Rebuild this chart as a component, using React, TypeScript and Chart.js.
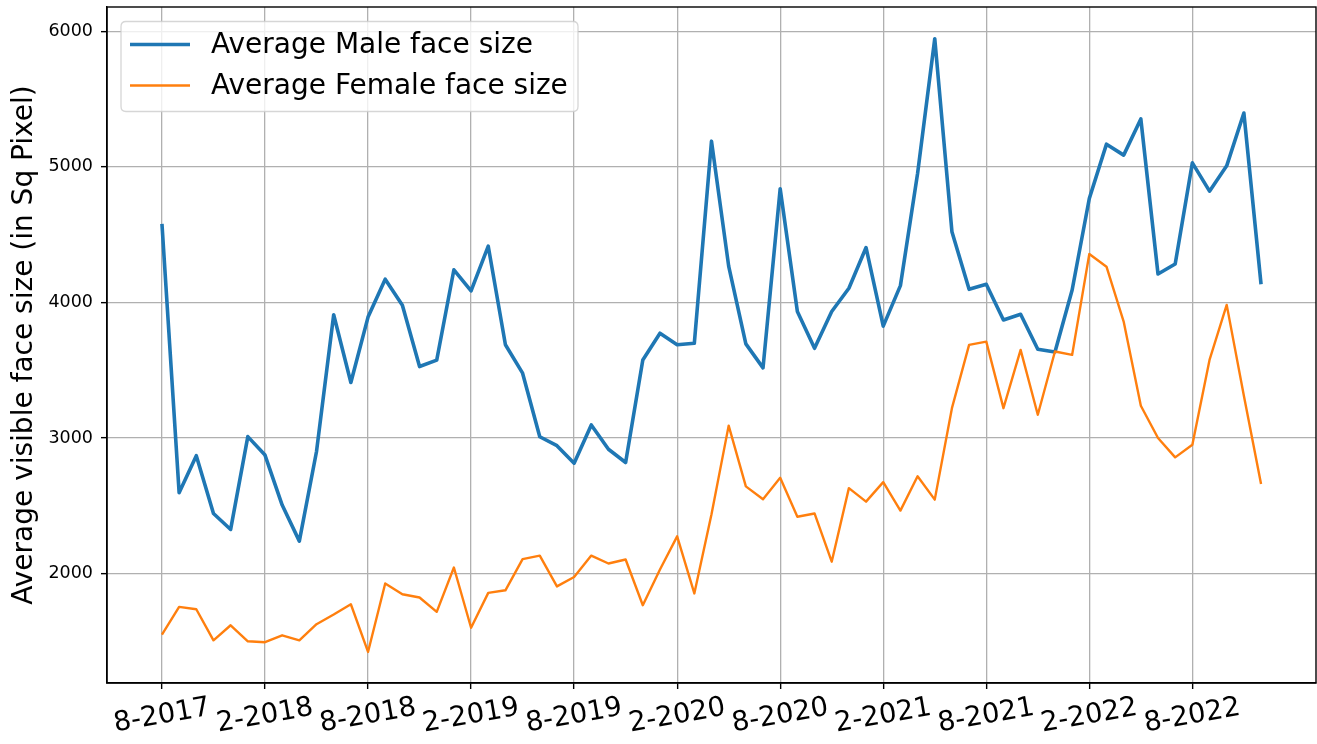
import React, { useEffect, useRef } from "react";
import { Chart, registerables } from "chart.js";

Chart.register(...registerables);

const maleLabel = "Average Male face size";
const femaleLabel = "Average Female face size";
const yTitle = "Average visible face size (in Sq Pixel)";

// monthly points, 8-2017 .. 12-2022
const maleSizes = [
  4579, 2596, 2869, 2443, 2325, 3010, 2874, 2505, 2239, 2900,
  3909, 3409, 3892, 4172, 3980, 3527, 3574, 4241, 4086, 4415,
  3688, 3478, 3009, 2943, 2814, 3096, 2917, 2819, 3575, 3773,
  3688, 3699, 5190, 4268, 3694, 3517, 4839, 3933, 3662, 3933,
  4105, 4405, 3825, 4124, 4952, 5946, 4522, 4097, 4134, 3871,
  3913, 3655, 3635, 4092, 4767, 5168, 5087, 5354, 4210, 4284,
  5030, 4821, 5008, 5398, 4134,
];
const femaleSizes = [
  1549, 1754, 1736, 1507, 1618, 1500, 1493, 1544, 1507, 1626,
  1697, 1773, 1421, 1926, 1847, 1823, 1717, 2044, 1600, 1857,
  1876, 2106, 2132, 1905, 1974, 2132, 2074, 2103, 1766, 2029,
  2274, 1853, 2437, 3091, 2643, 2548, 2706, 2419, 2443, 2087,
  2630, 2530, 2674, 2464, 2717, 2545, 3220, 3687, 3711, 3220,
  3650, 3171, 3638, 3613, 4357, 4264, 3859, 3238, 3000, 2857,
  2950, 3576, 3982, 3311, 2661,
];
const xTickLabels = [
  "8-2017", "2-2018", "8-2018", "2-2019", "8-2019", "2-2020",
  "8-2020", "2-2021", "8-2021", "2-2022", "8-2022",
];
const xTickStep = 6;
const yTickValues = [2000, 3000, 4000, 5000, 6000];

const FONT = "'DejaVu Sans', 'Liberation Sans', sans-serif";

const decorPlugin = {
  id: "decor",
  afterDraw(chart: any) {
    const { ctx, chartArea, scales } = chart;
    const xs = scales.x;
    ctx.save();
    // frame (all four spines)
    ctx.strokeStyle = "#000";
    ctx.lineWidth = 1.4;
    ctx.strokeRect(chartArea.left, chartArea.top, chartArea.right - chartArea.left, chartArea.bottom - chartArea.top);
    // rotated x tick labels, centered on ticks
    ctx.fillStyle = "#000";
    ctx.font = `27.5px ${FONT}`;
    ctx.textAlign = "center";
    ctx.textBaseline = "middle";
    xTickLabels.forEach((lab, k) => {
      const px = xs.getPixelForValue(k * xTickStep);
      ctx.save();
      ctx.translate(px, chartArea.bottom + 33);
      ctx.rotate((-10 * Math.PI) / 180);
      ctx.fillText(lab, 0, 0);
      ctx.restore();
    });
    // legend box
    const bx = chartArea.left + 14, by = chartArea.top + 14.5, bw = 457, bh = 90, r = 5;
    ctx.beginPath();
    ctx.moveTo(bx + r, by);
    ctx.lineTo(bx + bw - r, by);
    ctx.quadraticCurveTo(bx + bw, by, bx + bw, by + r);
    ctx.lineTo(bx + bw, by + bh - r);
    ctx.quadraticCurveTo(bx + bw, by + bh, bx + bw - r, by + bh);
    ctx.lineTo(bx + r, by + bh);
    ctx.quadraticCurveTo(bx, by + bh, bx, by + bh - r);
    ctx.lineTo(bx, by + r);
    ctx.quadraticCurveTo(bx, by, bx + r, by);
    ctx.closePath();
    ctx.fillStyle = "rgba(255,255,255,0.8)";
    ctx.fill();
    ctx.strokeStyle = "rgba(204,204,204,0.8)";
    ctx.lineWidth = 1.3;
    ctx.stroke();
    const items = chart.data.datasets;
    const rows = [by + 23, by + 64];
    ctx.font = `28px ${FONT}`;
    ctx.textAlign = "left";
    ctx.textBaseline = "middle";
    items.forEach((ds: any, i: number) => {
      ctx.strokeStyle = ds.borderColor;
      ctx.lineWidth = ds.borderWidth;
      ctx.beginPath();
      ctx.moveTo(bx + 9, rows[i]);
      ctx.lineTo(bx + 69, rows[i]);
      ctx.stroke();
      ctx.fillStyle = "#000";
      ctx.fillText(ds.label, bx + 90, rows[i] + 1);
    });
    ctx.restore();
  },
};

export default function App() {
  const ref = useRef<HTMLCanvasElement | null>(null);
  useEffect(() => {
    if (!ref.current) return;
    const chart = new Chart(ref.current, {
      type: "line",
      data: {
        datasets: [
          {
            label: maleLabel,
            data: maleSizes.map((v, i) => ({ x: i, y: v })),
            borderColor: "#1f77b4",
            backgroundColor: "#1f77b4",
            borderWidth: 3.6,
            pointRadius: 0,
            tension: 0,
            order: 1,
            borderJoinStyle: "round",
          },
          {
            label: femaleLabel,
            data: femaleSizes.map((v, i) => ({ x: i, y: v })),
            borderColor: "#ff7f0e",
            backgroundColor: "#ff7f0e",
            borderWidth: 2.4,
            pointRadius: 0,
            tension: 0,
            order: 0,
            borderJoinStyle: "round",
          },
        ],
      },
      options: {
        responsive: false,
        animation: false,
        layout: { padding: { top: 7, right: 1, left: 0, bottom: 0 } },
        plugins: { legend: { display: false }, tooltip: { enabled: false } },
        scales: {
          x: {
            type: "linear",
            min: -3.2,
            max: maleSizes.length - 1 + 3.2,
            afterBuildTicks: (s: any) => {
              s.ticks = xTickLabels.map((_, k) => ({ value: k * xTickStep }));
            },
            afterFit: (s: any) => {
              s.height = 61;
              s.paddingLeft = 0;
              s.paddingRight = 0;
            },
            ticks: { callback: () => "", font: { size: 10 } },
            grid: { color: "#b0b0b0", lineWidth: 1.3, tickLength: 6, tickColor: "#000", tickWidth: 1.4 },
            border: { color: "#000", width: 1.4 },
          },
          y: {
            type: "linear",
            min: 1192,
            max: 6180,
            afterBuildTicks: (s: any) => {
              s.ticks = yTickValues.map((v) => ({ value: v }));
            },
            afterFit: (s: any) => {
              s.width = 107;
              s.paddingTop = 0;
              s.paddingBottom = 0;
            },
            ticks: {
              color: "#000",
              padding: 8,
              font: { size: 17.5, family: FONT },
              callback: (v: any) => String(v),
            },
            grid: { color: "#b0b0b0", lineWidth: 1.3, tickLength: 6, tickColor: "#000", tickWidth: 1.4 },
            border: { color: "#000", width: 1.4 },
            title: {
              display: true,
              text: yTitle,
              color: "#000",
              font: { size: 28, family: FONT },
              padding: { top: 8, bottom: 0 },
            },
          },
        },
      },
      plugins: [decorPlugin],
    });
    return () => chart.destroy();
  }, []);
  return (
    <div style={{ position: "absolute", left: 0, top: 0, width: 1317, height: 744, background: "#fff" }}>
      <canvas ref={ref} width={1317} height={744} />
    </div>
  );
}
